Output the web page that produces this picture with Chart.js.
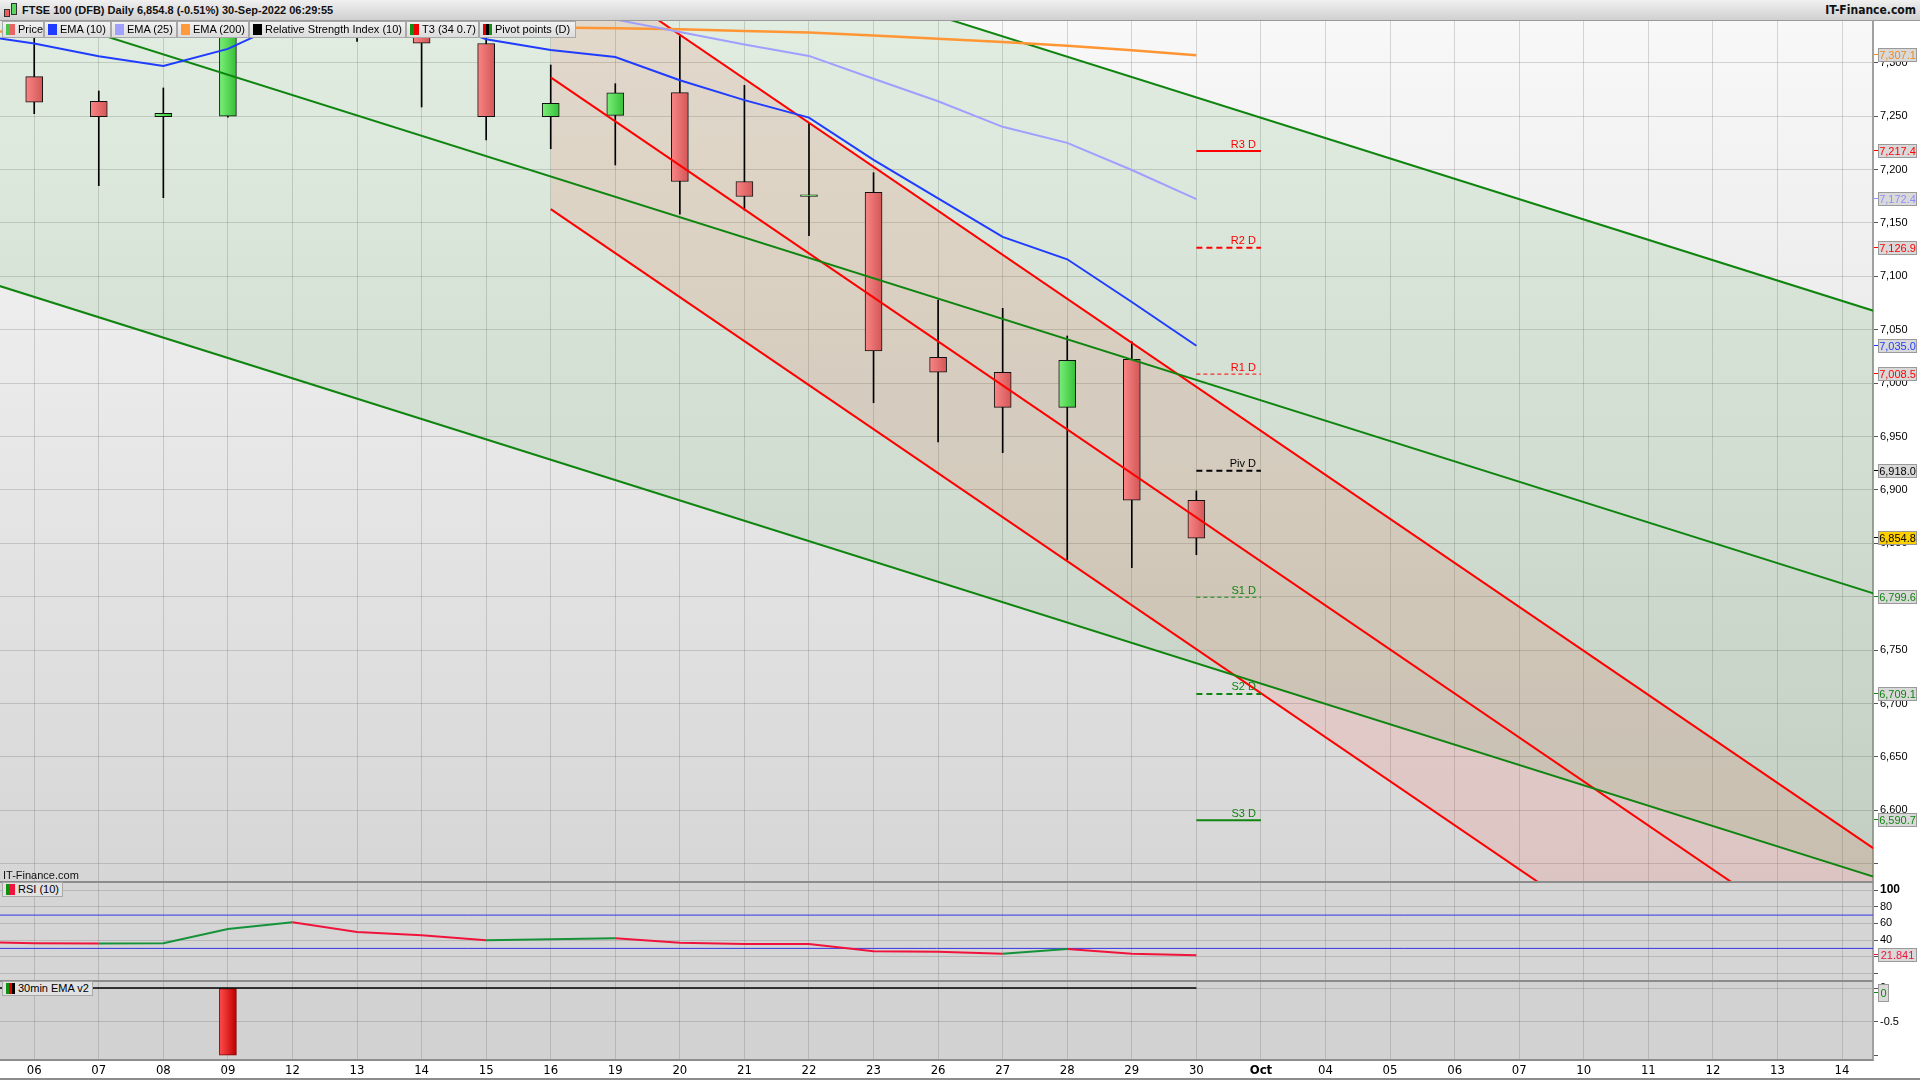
<!DOCTYPE html>
<html>
<head>
<meta charset="utf-8">
<title>FTSE 100 (DFB) Daily</title>
<script src="https://cdn.jsdelivr.net/npm/chart.js@4.4.0/dist/chart.umd.min.js"></script>
<style>
  body { margin: 0; width: 1920px; height: 1080px; position: relative; overflow: hidden; background: #fff;
         font-family: 'Liberation Sans', Arial, sans-serif; }
  #head { position: absolute; left: 0; top: 0; width: 1920px; height: 20px;
          background: linear-gradient(#f0f0f0, #d0d0d0); border-bottom: 1px solid #9a9a9a; }
  #title { position: absolute; left: 22px; top: 4px; font-weight: bold; font-size: 11px; color: #111; }
  #brand { position: absolute; right: 4px; top: 3px; font: bold 12px 'Liberation Sans Narrow', 'DejaVu Sans Condensed', sans-serif; color: #111; }
  .candle { position: absolute; border: 1px solid #333; box-sizing: border-box; }
  .leg { position: absolute; top: 21px; height: 17px; box-sizing: border-box; border: 1px solid #a8a8a8;
         background: linear-gradient(#f2f2f2, #dcdcdc); font-size: 11px; line-height: 15px; white-space: nowrap; color: #000; }
  .ico { display: inline-block; width: 9px; height: 11px; vertical-align: -2px; margin: 0 3px 0 3px; }
  .box { position: absolute; height: 15px; box-sizing: border-box; border: 1px solid #a8a8a8; background: #e2e2e2;
         font-size: 11px; line-height: 13px; white-space: nowrap; padding-right: 3px; }
  canvas { position: absolute; left: 0; }
  #mark { position: absolute; left: 3px; top: 869px; font-size: 11px; color: #111; }
</style>
</head>
<body>
<canvas id="main" width="1920" height="860" style="top:21px"></canvas>
<canvas id="rsi" width="1920" height="99" style="top:881px"></canvas>
<canvas id="emav2" width="1920" height="100" style="top:980px"></canvas>

<div id="head">
  <div class="candle" style="left:4px;top:9px;width:6px;height:8px;background:#e86060"></div>
  <div class="candle" style="left:11px;top:3px;width:6px;height:12px;background:#5cd65c"></div>
  <div id="title">FTSE 100 (DFB) Daily 6,854.8 (-0.51%) 30-Sep-2022 06:29:55</div>
  <div id="brand">IT-Finance.com</div>
</div>

<div class="leg" style="left:2px;width:42px"><span class="ico" style="background:linear-gradient(90deg,#4cc44c 50%,#e86464 50%)"></span>Price</div>
<div class="leg" style="left:44px;width:67px"><span class="ico" style="background:#1f3cff"></span>EMA (10)</div>
<div class="leg" style="left:111px;width:66px"><span class="ico" style="background:#a0a0ff"></span>EMA (25)</div>
<div class="leg" style="left:177px;width:72px"><span class="ico" style="background:#ff9a3c"></span>EMA (200)</div>
<div class="leg" style="left:249px;width:157px"><span class="ico" style="background:#000"></span>Relative Strength Index (10)</div>
<div class="leg" style="left:406px;width:73px"><span class="ico" style="background:linear-gradient(90deg,#109010 50%,#f00000 50%)"></span>T3 (34 0.7)</div>
<div class="leg" style="left:479px;width:97px"><span class="ico" style="background:linear-gradient(90deg,#e00000 33%,#000 33%,#000 66%,#109010 66%)"></span>Pivot points (D)</div>

<div id="mark">IT-Finance.com</div>
<div class="box" style="left:2px;top:882px"><span class="ico" style="background:linear-gradient(90deg,#109010 50%,#f0143c 50%)"></span>RSI (10)</div>
<div class="box" style="left:2px;top:981px"><span class="ico" style="background:linear-gradient(90deg,#109010 33%,#e00000 33%,#e00000 66%,#000 66%)"></span>30min EMA v2</div>

<script>
// ---- axis labels (one per trading day on the axis) ----
const xLabels = ['06','07','08','09','12','13','14','15','16','19','20','21','22','23','26','27','28','29','30',
                 'Oct','04','05','06','07','10','11','12','13','14'];

// ---- daily candles, Sep 06 .. Sep 30 (axis positions 0..18) ----
const sessions = ['06','07','08','09','12','13','14','15','16','19','20','21','22','23','26','27','28','29','30'];
const openP  = [7287, 7264, 7249.5, 7250, 7380, 7466, 7392, 7318, 7249.5, 7250.7, 7272, 7188.8, 7174.8, 7178.7, 7024.3, 7010.2, 6977.4, 7022.4, 6890.4];
const highP  = [7335, 7273.6, 7276.4, 7390, 7488, 7472, 7400, 7330, 7297.9, 7280.4, 7324.9, 7278.8, 7243.3, 7197.1, 7077.9, 7070.1, 7044.2, 7038.9, 6899.1];
const lowP   = [7252.3, 7184.9, 7173.7, 7249, 7370, 7320, 7258.6, 7227.8, 7219.5, 7204.3, 7158.2, 7162, 7138, 6981.7, 6944.9, 6934.9, 6834.5, 6827.3, 6839.4];
const closeP = [7263, 7249.5, 7252.7, 7378, 7470, 7392, 7318.3, 7249.5, 7262.1, 7271.9, 7188.8, 7174.8, 7176.3, 7030.1, 7010.2, 6977.4, 7021.4, 6890.4, 6854.8];

// ---- indicator lines: first value is the session before the first label (Sep 05) ----
const ema10  = [7327, 7318, 7306, 7297, 7313, 7341, 7350, 7344, 7322, 7312, 7305.4, 7283.6, 7265, 7248.6, 7209, 7173, 7137, 7116, 7076, 7035.0];
const ema25  = [7352, 7355, 7356, 7357, 7358, 7361, 7360, 7358, 7354, 7346, 7340.5, 7328.8, 7317, 7306.4, 7285, 7264, 7240, 7225, 7199.6, 7172.4];
const ema200 = [7329, 7329.5, 7329.8, 7330, 7330.5, 7331.5, 7332.5, 7333, 7333.3, 7333, 7332.2, 7331.3, 7329.8, 7328.3, 7325.5, 7322.5, 7319.5, 7316, 7311.8, 7307.1];
const rsi10  = [38.1, 36.2, 36.0, 36.3, 53.4, 61.4, 49.8, 45.8, 39.8, 41.0, 42.2, 36.7, 35.4, 35.2, 26.6, 25.9, 23.5, 29.4, 23.5, 21.841];
const rsiLevels = [70, 30];

// ---- 30min EMA v2 histogram (Sep 06 .. Sep 30) and its zero line (from Sep 05) ----
const emaV2Hist = [0, 0, 0, -1, 0, 0, 0, 0, 0, 0, 0, 0, 0, 0, 0, 0, 0, 0, 0];
const emaV2Line = [0, 0, 0, 0, 0, 0, 0, 0, 0, 0, 0, 0, 0, 0, 0, 0, 0, 0, 0, 0];

// ---- daily pivot levels, drawn from '30' to 'Oct' ----
const pivotNames  = ['R3 D', 'R2 D', 'R1 D', 'Piv D', 'S1 D', 'S2 D', 'S3 D'];
const pivotValues = [7217.4, 7126.9, 7008.5, 6918.0, 6799.6, 6709.1, 6590.7];
const pivotFrom = '30', pivotTo = 'Oct';

// ---- T3 channels: value at the two ends (axis positions) ----
const greenX = [-1, 30];
const greenTop = [7629.5, 7039.0];
const greenMid = [7365.0, 6774.4];
const greenBot = [7099.8, 6509.2];
const redX = [8, 30];
const redTop = [7408.6, 6502.2];
const redMid = [7286.3, 6379.9];
const redBot = [7163.0, 6256.5];

// ---- axis ranges ----
const xMin = -0.53, xMax = 28.48;
const priceMin = 6533.9, priceMax = 7339.1;
const lowestPriceLabel = 6600;

const RED = '#ff0000', GREEN = '#0f850f', BLUE = '#1f3cff', LILAC = '#9f9fff', ORANGE = '#ff9633';
const GRID = 'rgba(70,70,70,0.2)';
const NARROW = "'Liberation Sans Narrow', 'DejaVu Sans Condensed', sans-serif";

Chart.defaults.font.family = "'Liberation Sans', Arial, sans-serif";
Chart.defaults.font.size = 11;
Chart.defaults.color = '#000';

const lineX = [-1].concat(sessions.map((d, i) => i));   // positions of the 20-value series
const pts = (xs, ys) => ys.map((y, i) => ({x: xs[i], y}));

// background + separator lines of a panel
const panelBg = {
  id: 'panelBg',
  beforeDraw(chart, args, o) {
    const {ctx, chartArea: a} = chart;
    if (!a) return;
    ctx.save();
    let fill = o.color;
    if (o.top) {
      fill = ctx.createLinearGradient(0, a.top, 0, a.bottom);
      fill.addColorStop(0, o.top);
      fill.addColorStop(1, o.bottom);
    }
    ctx.fillStyle = fill;
    ctx.fillRect(a.left, a.top, a.right - a.left, a.bottom - a.top);
    ctx.restore();
  },
  afterDraw(chart, args, o) {
    const {ctx, chartArea: a} = chart;
    ctx.save();
    ctx.fillStyle = '#8c8c8c';
    (o.lines || []).forEach(l => {
      if (l === 'top') ctx.fillRect(0, a.top, a.right, 2);
      if (l === 'bottom') ctx.fillRect(0, a.bottom - 1, a.right, 2);
      if (l === 'end') ctx.fillRect(0, chart.height - 2, chart.width, 2);
    });
    ctx.restore();
  }
};

// value boxes on the right axis
const tags = {
  id: 'tags',
  afterDraw(chart, args, o) {
    const {ctx, chartArea: a} = chart;
    const ys = chart.scales.y;
    ctx.save();
    ctx.font = "11px 'Liberation Sans', Arial, sans-serif";
    ctx.textAlign = 'center';
    ctx.textBaseline = 'middle';
    (o.items || []).forEach(t => {
      const py = Math.round(ys.getPixelForValue(t.value)) + (t.dy || 0);
      const w = t.w || 39, h = t.h || 14, x0 = a.right + 5;
      ctx.fillStyle = t.color;
      ctx.fillRect(a.right + 1, py - 1, 4, 1);
      ctx.fillStyle = t.bg || '#d9d9d9';
      ctx.fillRect(x0, py - h / 2, w, h);
      ctx.strokeStyle = '#9a9a9a';
      ctx.lineWidth = 1;
      ctx.strokeRect(x0 + 0.5, py - h / 2 + 0.5, w - 1, h - 1);
      ctx.fillStyle = t.color;
      ctx.fillText(t.text, x0 + w / 2, py + 0.5);
    });
    ctx.restore();
  }
};

// names above the pivot segments
const pivotText = {
  id: 'pivotText',
  afterDatasetsDraw(chart) {
    const {ctx} = chart;
    const xs = chart.scales.x, ys = chart.scales.y;
    const xr = xs.getPixelForValue(xLabels.indexOf(pivotTo));
    ctx.save();
    ctx.font = "11px 'Liberation Sans', Arial, sans-serif";
    ctx.textAlign = 'right';
    ctx.textBaseline = 'bottom';
    pivotNames.forEach((n, i) => {
      ctx.fillStyle = pivotColor(i);
      ctx.fillText(n, xr - 5, ys.getPixelForValue(pivotValues[i]) - 1);
    });
    ctx.restore();
  }
};

function pivotColor(i) {
  const n = pivotNames[i];
  return n[0] === 'R' ? RED : n[0] === 'S' ? GREEN : '#000';
}
function pivotDash(i) {
  const n = pivotNames[i];
  if (n === 'R3 D' || n === 'S3 D') return [];
  if (n === 'R1 D' || n === 'S1 D') return [4, 3];
  return [6, 4];
}

// horizontal gradient across one bar, or a flat colour while the scale is not ready
function barGradient(c, stops, flat) {
  const xs = c.chart.scales.x;
  if (c.dataIndex === undefined || !xs) return flat;
  const px = xs.getPixelForValue(c.dataIndex);
  if (!Number.isFinite(px)) return flat;
  const g = c.chart.ctx.createLinearGradient(px - 8, 0, px + 8, 0);
  g.addColorStop(0, stops[0]);
  g.addColorStop(1, stops[1]);
  return g;
}

function candleFill(c) {
  const i = c.dataIndex;
  const up = i !== undefined && closeP[i] >= openP[i];
  return up ? barGradient(c, ['#78ee78', '#38c038'], '#5cd65c') : barGradient(c, ['#f88484', '#d45858'], '#e86464');
}

function noPad(s) {
  s.paddingTop = 0; s.paddingBottom = 0; s.paddingLeft = 0; s.paddingRight = 0;
}

function xAxis(showLabels) {
  return {
    type: 'linear', min: xMin, max: xMax, offset: false,
    ticks: {
      display: showLabels, stepSize: 1, includeBounds: false, autoSkip: false, maxRotation: 0, padding: 3,
      maxTicksLimit: 100,
      callback: v => xLabels[v] ?? '',
      font: c => ({family: NARROW, size: 13, weight: xLabels[c.tick && c.tick.value] === 'Oct' ? 'bold' : 'normal'}),
      color: '#000'
    },
    grid: {color: GRID, drawTicks: false, offset: false},
    border: {display: false},
    afterFit: s => { s.height = showLabels ? 20 : 0; noPad(s); }
  };
}

function yAxis(min, max, step, cb, extra) {
  return Object.assign({
    position: 'right', min, max,
    ticks: {stepSize: step, includeBounds: false, autoSkip: false, maxTicksLimit: 100, padding: 2, color: '#000', callback: cb},
    grid: {color: GRID, tickLength: 5, tickColor: '#555'},
    border: {color: '#a0a0a0', width: 2},
    afterFit: s => { s.width = 47; noPad(s); }
  }, extra || {});
}

const baseOpts = {
  responsive: false, maintainAspectRatio: false, animation: false,
  layout: {padding: 0},
  events: []
};

// ---------------- main price panel ----------------
const lineDs = (label, xs, ys, color, width, order, extra) => Object.assign({
  type: 'line', label, data: pts(xs, ys), borderColor: color, borderWidth: width,
  pointRadius: 0, tension: 0, fill: false, order, clip: 0
}, extra || {});

const pFrom = xLabels.indexOf(pivotFrom), pTo = xLabels.indexOf(pivotTo);

new Chart(document.getElementById('main'), {
  type: 'line',
  data: {
    datasets: [
      {type: 'bar', label: 'Price', order: 10, grouped: false, barThickness: 17, clip: 0,
       data: sessions.map((d, i) => ({x: i, y: [openP[i], closeP[i]]})),
       backgroundColor: candleFill, borderColor: '#111', borderWidth: 1, borderSkipped: false},
      {type: 'bar', label: 'Range', order: 11, grouped: false, barThickness: 1, clip: 0,
       data: sessions.map((d, i) => ({x: i, y: [lowP[i], highP[i]]})),
       backgroundColor: '#000', borderWidth: 0},
      lineDs('EMA (10)', lineX, ema10, BLUE, 2, 1),
      lineDs('EMA (25)', lineX, ema25, LILAC, 2, 1),
      lineDs('EMA (200)', lineX, ema200, ORANGE, 2.5, 1),
      lineDs('T3 top', greenX, greenTop, GREEN, 2, 2, {fill: '+2', backgroundColor: 'rgba(0,128,0,0.09)'}),
      lineDs('T3 mid', greenX, greenMid, GREEN, 2, 2),
      lineDs('T3 bottom', greenX, greenBot, GREEN, 2, 2),
      lineDs('T3 red top', redX, redTop, RED, 2, 2, {fill: '+2', backgroundColor: 'rgba(255,80,60,0.13)'}),
      lineDs('T3 red mid', redX, redMid, RED, 2, 2),
      lineDs('T3 red bottom', redX, redBot, RED, 2, 2),
      ...pivotNames.map((n, i) => lineDs(n, [pFrom, pTo], [pivotValues[i], pivotValues[i]], pivotColor(i),
        (n === 'R1 D' || n === 'S1 D') ? 1 : 2, 0, {borderDash: pivotDash(i)}))
    ]
  },
  options: Object.assign({}, baseOpts, {
    scales: {
      x: xAxis(false),
      y: yAxis(priceMin, priceMax, 50, v => (v < lowestPriceLabel ? '' : v.toLocaleString('en-US')))
    },
    plugins: {
      legend: {display: false}, tooltip: {enabled: false},
      filler: {drawTime: 'beforeDatasetsDraw'},
      panelBg: {top: '#f8f8f8', bottom: '#d6d6d6'},
      tags: {items: [
        {value: ema200[ema200.length - 1], text: '7,307.1', color: '#f08a1e'},
        {value: pivotValues[0], text: '7,217.4', color: RED},
        {value: ema25[ema25.length - 1], text: '7,172.4', color: '#8f8fff'},
        {value: pivotValues[1], text: '7,126.9', color: RED},
        {value: ema10[ema10.length - 1], text: '7,035.0', color: BLUE},
        {value: pivotValues[2], text: '7,008.5', color: RED},
        {value: pivotValues[3], text: '6,918.0', color: '#000'},
        {value: closeP[closeP.length - 1], text: '6,854.8', color: '#000', bg: '#ffd000'},
        {value: pivotValues[4], text: '6,799.6', color: GREEN},
        {value: pivotValues[5], text: '6,709.1', color: GREEN},
        {value: pivotValues[6], text: '6,590.7', color: GREEN}
      ]}
    }
  }),
  plugins: [panelBg, tags, pivotText]
});

// ---------------- RSI panel ----------------
new Chart(document.getElementById('rsi'), {
  type: 'line',
  data: {
    datasets: [
      {label: 'RSI (10)', data: pts(lineX, rsi10), borderWidth: 2, pointRadius: 0, tension: 0, clip: 0, order: 0,
       borderColor: '#f0143c',
       segment: {borderColor: c => c.p1.parsed.y < c.p0.parsed.y ? '#f0143c' : '#16923a'}},
      ...rsiLevels.map(v => ({label: 'level ' + v, data: pts([xMin, xMax], [v, v]), borderColor: '#3434e6',
        borderWidth: 1, pointRadius: 0, clip: 0, order: 1}))
    ]
  },
  options: Object.assign({}, baseOpts, {
    scales: {
      x: xAxis(false),
      y: yAxis(-8, 111, 20, v => (v === 0 ? '' : String(v)), {
        ticks: {stepSize: 20, includeBounds: false, autoSkip: false, maxTicksLimit: 100, padding: 2, color: '#000',
                callback: v => (v === 0 ? '' : String(v)),
                font: c => ({size: c.tick && c.tick.value === 100 ? 12 : 11, weight: c.tick && c.tick.value === 100 ? 'bold' : 'normal'})}
      })
    },
    plugins: {
      legend: {display: false}, tooltip: {enabled: false},
      panelBg: {color: '#d5d5d5', lines: ['top']},
      tags: {items: [{value: rsi10[rsi10.length - 1], text: '21.841', color: '#f0143c'}]}
    }
  }),
  plugins: [panelBg, tags]
});

// ---------------- 30min EMA v2 panel ----------------
new Chart(document.getElementById('emav2'), {
  type: 'line',
  data: {
    datasets: [
      {label: 'zero', data: pts(lineX, emaV2Line), borderColor: '#000', borderWidth: 1.5, pointRadius: 0, clip: 0, order: 0},
      {type: 'bar', label: '30min EMA v2', order: 1, grouped: false, barThickness: 17, clip: 0,
       data: sessions.map((d, i) => ({x: i, y: emaV2Hist[i] === 0 ? null : emaV2Hist[i]})),
       backgroundColor: c => barGradient(c, ['#ff4a4a', '#c00000'], '#e01010'),
       borderColor: '#7a0000', borderWidth: 1, borderSkipped: false}
    ]
  },
  options: Object.assign({}, baseOpts, {
    scales: {
      x: xAxis(true),
      y: yAxis(-1.07, 0.12, 0.5, v => (v === -1 ? '' : String(v)), {
        grid: {color: c => (c.tick && c.tick.value === -1 ? 'rgba(0,0,0,0)' : GRID), tickLength: 5, tickColor: '#555'}
      })
    },
    plugins: {
      legend: {display: false}, tooltip: {enabled: false},
      panelBg: {color: '#d2d2d2', lines: ['top', 'bottom', 'end']},
      tags: {items: [{value: emaV2Hist[emaV2Hist.length - 1], text: '0', color: GREEN, w: 11, h: 18, dy: 5}]}
    }
  }),
  plugins: [panelBg, tags]
});
</script>
</body>
</html>
